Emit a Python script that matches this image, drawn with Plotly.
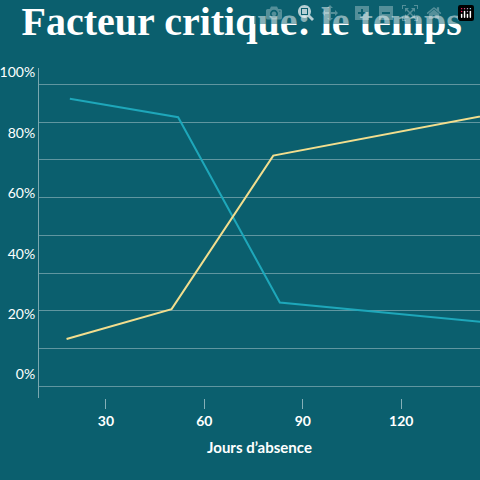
import plotly.graph_objects as go

days_a = [19, 52, 83, 150]
pct_a = [95.2, 89.1, 27.8, 20.8]
days_b = [18, 50, 81, 150]
pct_b = [15.7, 25.6, 76.4, 90.6]
xticks = [30, 60, 90, 120]
yticks = [0, 20, 40, 60, 80, 100]
ylabels = ["0%", "20%", "40%", "60%", "80%", "100%"]
grid = [0, 12.5, 25, 37.5, 50, 62.5, 75, 87.5, 100]

bg = "#0b5f6e"
fig = go.Figure()
fig.add_trace(go.Scatter(x=days_a, y=pct_a, mode="lines", line=dict(color="#1ea7ba", width=2)))
fig.add_trace(go.Scatter(x=days_b, y=pct_b, mode="lines", line=dict(color="#f2de8e", width=2)))
fig.update_layout(
    width=480, height=480, paper_bgcolor=bg, plot_bgcolor=bg, showlegend=False,
    margin=dict(l=33, r=0, t=68, b=82),
    title=dict(text="<b>Facteur critique: le temps</b>", x=0.045, xanchor="left", y=0.985, yanchor="top",
               font=dict(family="Liberation Serif", size=40, color="white")),
    xaxis=dict(range=[9.6, 144], tickvals=xticks, showgrid=False, zeroline=False,
               ticks="outside", ticklen=10, tickcolor="rgba(255,255,255,0.5)",
               tickfont=dict(family="Lato", size=14, color="white", weight="bold"),
               title=dict(text="<b>Jours d’absence</b>", standoff=14,
                          font=dict(family="Lato", size=15, color="white"))),
    yaxis=dict(range=[-3.8, 105.4], tickvals=yticks, ticktext=ylabels, showgrid=False, zeroline=False,
               showline=True, linecolor="rgba(255,255,255,0.45)", linewidth=1,
               ticklabelshift=-12, tickfont=dict(family="Lato", size=14, color="white"),
               minor=dict(tickvals=grid, showgrid=True, gridcolor="rgba(255,255,255,0.35)", gridwidth=1)),
)
fig.write_html("out.html", post_script="document.body.style.margin='0';")
